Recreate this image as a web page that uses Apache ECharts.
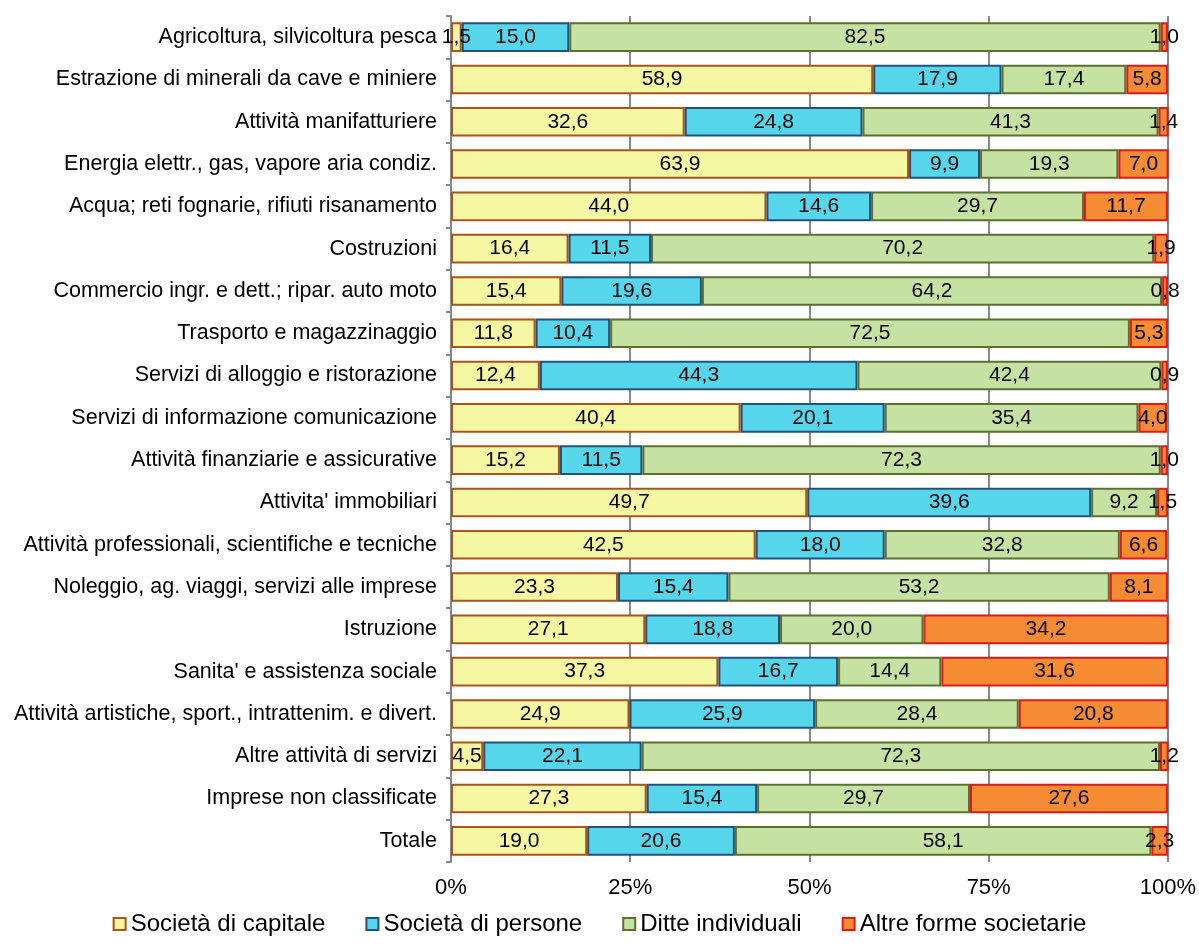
<!DOCTYPE html>
<html>
<head>
<meta charset="utf-8">
<script src="https://cdn.jsdelivr.net/npm/echarts@6/dist/echarts.min.js"></script>
<style>
html,body{margin:0;padding:0;background:#fff;}
#chart{width:1199px;height:947px;}
</style>
</head>
<body>
<div id="chart"></div>
<script>
const categories = [
  "Agricoltura, silvicoltura pesca",
  "Estrazione di minerali da cave e miniere",
  "Attività manifatturiere",
  "Energia elettr., gas, vapore aria condiz.",
  "Acqua; reti fognarie, rifiuti risanamento",
  "Costruzioni",
  "Commercio ingr. e dett.; ripar. auto moto",
  "Trasporto e magazzinaggio",
  "Servizi di alloggio e ristorazione",
  "Servizi di informazione comunicazione",
  "Attività finanziarie e assicurative",
  "Attivita' immobiliari",
  "Attività professionali, scientifiche e tecniche",
  "Noleggio, ag. viaggi, servizi alle imprese",
  "Istruzione",
  "Sanita' e assistenza sociale",
  "Attività artistiche, sport., intrattenim. e divert.",
  "Altre attività di servizi",
  "Imprese non classificate",
  "Totale"
];
const seriesNames = ["Società di capitale", "Società di persone", "Ditte individuali", "Altre forme societarie"];
const capitale = [1.5, 58.9, 32.6, 63.9, 44.0, 16.4, 15.4, 11.8, 12.4, 40.4, 15.2, 49.7, 42.5, 23.3, 27.1, 37.3, 24.9, 4.5, 27.3, 19.0];
const persone  = [15.0, 17.9, 24.8, 9.9, 14.6, 11.5, 19.6, 10.4, 44.3, 20.1, 11.5, 39.6, 18.0, 15.4, 18.8, 16.7, 25.9, 22.1, 15.4, 20.6];
const ditte    = [82.5, 17.4, 41.3, 19.3, 29.7, 70.2, 64.2, 72.5, 42.4, 35.4, 72.3, 9.2, 32.8, 53.2, 20.0, 14.4, 28.4, 72.3, 29.7, 58.1];
const altre    = [1.0, 5.8, 1.4, 7.0, 11.7, 1.9, 0.8, 5.3, 0.9, 4.0, 1.0, 1.5, 6.6, 8.1, 34.2, 31.6, 20.8, 1.2, 27.6, 2.3];
const xTicks = [0, 25, 50, 75, 100];

const fills = ["#F6F7A2", "#55D6EA", "#C5E2A2", "#F58B32"];
const borders = ["#A9541C", "#24507A", "#5D7030", "#DD1A1A"];
const FONT = "Liberation Sans";

const dataSets = [capitale, persone, ditte, altre];
const series = dataSets.map((d, i) => ({
  name: seriesNames[i],
  type: 'bar',
  stack: 'tot',
  barCategoryGap: '30%',
  data: d,
  itemStyle: { color: fills[i], borderColor: borders[i], borderWidth: 2 },
  label: {
    show: true,
    position: 'inside',
    color: '#000',
    fontFamily: FONT,
    fontSize: 21,
    formatter: p => p.value.toFixed(1).replace('.', ',')
  },
  emphasis: { disabled: true }
}));

const chart = echarts.init(document.getElementById('chart'), null, { renderer: 'canvas' });
chart.setOption({
  animation: false,
  backgroundColor: '#fff',
  grid: { left: 451, right: 31, top: 16, bottom: 85, containLabel: false },
  legend: {
    bottom: 6,
    left: 'center',
    itemWidth: 12,
    itemHeight: 12,
    itemGap: 40,
    icon: 'rect',
    textStyle: { fontFamily: FONT, fontSize: 24, color: '#000' },
    data: seriesNames.map((n, i) => ({
      name: n,
      itemStyle: { color: fills[i], borderColor: borders[i], borderWidth: 2 }
    }))
  },
  xAxis: {
    type: 'value',
    min: xTicks[0],
    max: xTicks[xTicks.length - 1],
    interval: 25,
    axisLine: { show: false },
    axisTick: { show: false },
    axisLabel: {
      color: '#000', fontFamily: FONT, fontSize: 22, margin: 15,
      formatter: v => v + '%'
    },
    splitLine: { show: true, lineStyle: { color: '#888', width: 2 } }
  },
  yAxis: {
    type: 'category',
    inverse: true,
    data: categories,
    axisLine: { show: true, lineStyle: { color: '#888', width: 2 } },
    axisTick: { show: true, length: 5, lineStyle: { color: '#888', width: 2 } },
    axisLabel: { color: '#000', fontFamily: FONT, fontSize: 21.5, margin: 14 }
  },
  series: series
});
</script>
</body>
</html>
